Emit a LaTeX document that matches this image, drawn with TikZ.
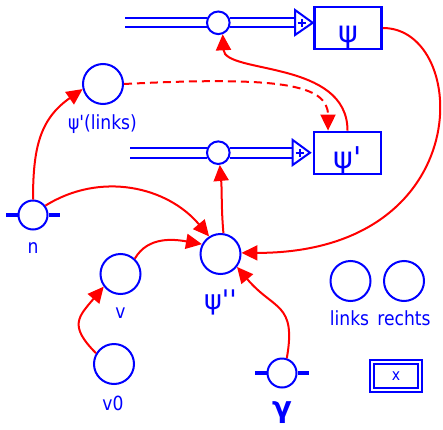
\documentclass[tikz,border=0pt]{standalone}
\usepackage{fontspec}
\setmainfont{DejaVu Sans}[FakeStretch=0.88,Ligatures=TeXOff]
\newfontfamily\psifont{DejaVu Sans}[Ligatures=TeXOff]
\usetikzlibrary{arrows.meta}
\definecolor{bl}{RGB}{0,0,255}
\definecolor{rd}{RGB}{255,0,0}
\begin{document}
\begin{tikzpicture}[x=1pt,y=1pt,
  circ/.style={circle,draw=bl,line width=2pt,fill=white,inner sep=0pt,minimum size=40pt},
  junc/.style={circ,minimum size=22.6pt},
  port/.style={circ,minimum size=29pt},
  box/.style={rectangle,draw=bl,line width=2.8pt,minimum width=67pt,minimum height=42pt,inner sep=0pt,text=bl,font=\psifont\fontsize{30}{30}\selectfont,text height=30pt,text depth=0pt},
  lbl/.style={text=bl,inner sep=0pt,font=\fontsize{19.5}{20}\selectfont},
  biglbl/.style={lbl,font=\psifont\fontsize{27}{28}\selectfont},
  wire/.style={draw=bl,line width=2pt},
  bar/.style={draw=bl,line width=4pt},
  plus/.style={draw=bl,line width=2pt},
  conn/.style={draw=rd,line width=2pt,-{Triangle[length=16pt,width=15pt]}},
  dconn/.style={conn,dash pattern=on 8pt off 5pt},
]
\useasboundingbox (0,0) rectangle (443,429);
% nodes
\node[junc] (c1) at (218.3,406.2) {};
\node[junc] (c2) at (218.3,276.3) {};
\node[box] (psi) at (348,401) {ψ};
\node[box] (psip) at (347.5,276) {ψ'};
\node[circ] (psil) at (103,345) {};
\node[lbl] (psilT) at (102.5,305) {ψ'(links)};
\node[port] (n) at (33,214) {};
\node[lbl] (nT) at (33,181) {n};
\node[circ] (psipp) at (220.5,175) {};
\node[biglbl] (psippT) at (220.5,127) {ψ''};
\node[circ] (v) at (120.5,155) {};
\node[lbl] (vT) at (120.5,116) {v};
\node[circ] (v0) at (114,65) {};
\node[lbl] (v0T) at (113,25.5) {v0};
\node[circ] (links) at (350.5,148) {};
\node[lbl] (linksT) at (349.5,110.5) {links};
\node[circ] (rechts) at (404,148) {};
\node[lbl] (rechtsT) at (404,110.5) {rechts};
\node[port] (gam) at (282,56) {};
\node[lbl,font=\psifont\bfseries\fontsize{29}{29}\selectfont] (gamT) at (282,16) {γ};
\node[draw=bl,line width=2pt,double=white,double distance=2pt,minimum width=48pt,minimum height=28pt,inner sep=0pt,text=bl,font=\fontsize{16}{16}\selectfont] (xb) at (396,53) {x};
% wires, upper
\coordinate (w1a) at (125,410.9);
\coordinate (w1b) at (125,401.5);
\coordinate (t1a) at (295,410.9);
\coordinate (t1b) at (295,401.5);
\draw[wire] (w1a) -- (c1.158 |- w1a);
\draw[wire] (w1b) -- (c1.202 |- w1b);
\draw[wire] (c1.22 |- t1a) -- (t1a);
\draw[wire] (c1.338 |- t1b) -- (t1b);
\draw[wire,line join=miter,fill=white] (295,419) -- (312.7,406.2) -- (295,394) -- cycle;
\draw[plus] (297.5,406.2) -- (305.5,406.2) (301.5,402.2) -- (301.5,410.2);
% wires, lower
\coordinate (w2a) at (130,281.3);
\coordinate (w2b) at (130,271.3);
\coordinate (t2a) at (292.7,281.3);
\coordinate (t2b) at (292.7,271.3);
\draw[wire] (w2a) -- (c2.158 |- w2a);
\draw[wire] (w2b) -- (c2.202 |- w2b);
\draw[wire] (c2.22 |- t2a) -- (t2a);
\draw[wire] (c2.338 |- t2b) -- (t2b);
\draw[wire,line join=miter,fill=white] (292.7,289) -- (310,276.3) -- (292.7,264) -- cycle;
\draw[plus] (295.5,276.3) -- (303.5,276.3) (299.5,272.3) -- (299.5,280.3);
% bars
\coordinate (nL) at (6,214);
\coordinate (nR) at (60,214);
\draw[bar] (nL) -- (n.west);
\draw[bar] (n.east) -- (nR);
\coordinate (gL) at (255,56);
\coordinate (gR) at (309,56);
\draw[bar] (gL) -- (gam.west);
\draw[bar] (gam.east) -- (gR);
% connectors
\draw[conn] (n.90) to[out=90,in=215,looseness=1.1] (psil.194);
\draw[conn] (n.37) to[out=32,in=130] (psipp.123);
\draw[conn] (v.47) to[out=60,in=170] (psipp.152);
\draw[conn] (v0.149) to[out=135,in=230,looseness=1.5] (v.217);
\draw[conn] (psipp.82) to[out=95,in=-85] (c2.-83);
\draw[conn] (psi.east) .. controls +(87,0) and +(238,0) .. (psipp.3);
\draw[conn] (gam.72) to[out=80,in=-50,looseness=1.4] (psipp.-38);
\draw[conn] (psip.north) .. controls +(0,71) and +(2,-40) .. (c1.-69);
\coordinate (psipIn) at ([xshift=-19.5pt]psip.north);
\draw[dconn] (psil.east) .. controls +(156,8) and +(0,46) .. (psipIn);
\end{tikzpicture}
\end{document}
